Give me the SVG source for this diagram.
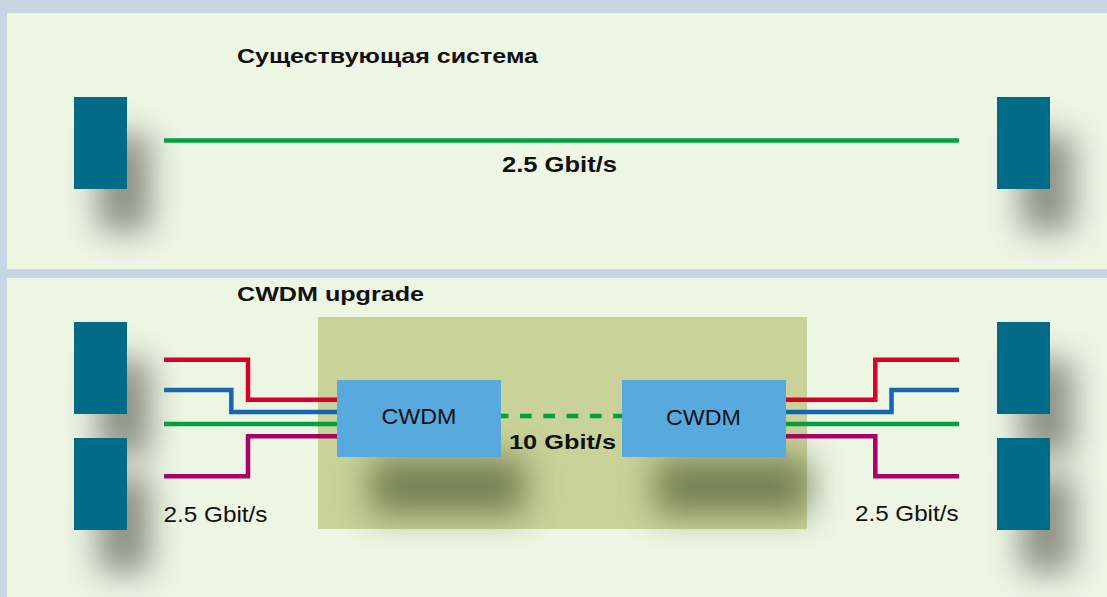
<svg xmlns="http://www.w3.org/2000/svg" width="1107" height="597" viewBox="0 0 1107 597">
<style>
.panel{fill:#edf5e3}
.term{fill:#006b86}
.tshadow{fill:#7a7f72;opacity:0.85}
.cshadow{fill:#5a633a;opacity:0.75}
.cwdm{fill:#58a9de}
.ln{fill:none;stroke-width:4.5;stroke-linejoin:miter;stroke-linecap:butt}
.red{stroke:#d7002b}
.blue{stroke:#1466b0}
.green{stroke:#00a040}
.mag{stroke:#a8006a}
.bold{font-family:"Liberation Sans",Arial,sans-serif;font-weight:bold;fill:#111}
.reg{font-family:"Liberation Sans",Arial,sans-serif;fill:#111}
</style>
<defs>
<filter id="blur" filterUnits="userSpaceOnUse" x="0" y="0" width="1107" height="597"><feGaussianBlur stdDeviation="16"/></filter>
<filter id="blur2" filterUnits="userSpaceOnUse" x="0" y="0" width="1107" height="597"><feGaussianBlur stdDeviation="17"/></filter>
</defs>
<rect x="0" y="0" width="1107" height="597" fill="#c8d6e3"/>
<rect class="panel" x="7" y="13" width="1100" height="256"/>
<rect class="panel" x="7" y="278" width="1100" height="319"/>

<text class="bold" x="237" y="62.5" font-size="20" textLength="301" lengthAdjust="spacingAndGlyphs">Существующая система</text>
<text class="bold" x="237" y="301" font-size="20" textLength="187" lengthAdjust="spacingAndGlyphs">CWDM upgrade</text>

<g id="olive-zone">
<rect x="318" y="317" width="489" height="212" fill="#c9d298"/>
</g>

<g id="connectors">
<line id="link-top" class="ln green" x1="164" y1="140.5" x2="959" y2="140.5" stroke-width="5"/>
<polyline class="ln red" points="164,359.7 248,359.7 248,399.7 337,399.7"/>
<polyline class="ln blue" points="164,390 231.3,390 231.3,412 337,412"/>
<polyline class="ln green" points="164,424 337,424"/>
<polyline class="ln mag" points="164,476.3 248,476.3 248,436.2 337,436.2"/>
<polyline class="ln red" points="786,399.7 875.3,399.7 875.3,359.7 959,359.7"/>
<polyline class="ln blue" points="786,412 891.5,412 891.5,390 959,390"/>
<polyline class="ln green" points="786,424 959,424"/>
<polyline class="ln mag" points="786,436.2 875.3,436.2 875.3,476.3 959,476.3"/>
<line id="link-10g" class="ln green" x1="501" y1="416" x2="622" y2="416" stroke-width="5" stroke-dasharray="11.7 11.6" stroke-dashoffset="4.3"/>
</g>

<g id="term-top-left">
<rect class="tshadow" x="98" y="135" width="52" height="96" filter="url(#blur)"/>
<rect class="term" x="74" y="97" width="53" height="92"/>
</g>
<g id="term-top-right">
<rect class="tshadow" x="1021" y="135" width="52" height="96" filter="url(#blur)"/>
<rect class="term" x="997" y="97" width="53" height="92"/>
</g>
<g id="term-bottom-left-1">
<rect class="tshadow" x="98" y="360" width="52" height="96" filter="url(#blur)"/>
<rect class="term" x="74" y="322" width="53" height="92"/>
</g>
<g id="term-bottom-left-2">
<rect class="tshadow" x="98" y="476" width="52" height="96" filter="url(#blur)"/>
<rect class="term" x="74" y="438" width="53" height="92"/>
</g>
<g id="term-bottom-right-1">
<rect class="tshadow" x="1021" y="360" width="52" height="96" filter="url(#blur)"/>
<rect class="term" x="997" y="322" width="53" height="92"/>
</g>
<g id="term-bottom-right-2">
<rect class="tshadow" x="1021" y="476" width="52" height="96" filter="url(#blur)"/>
<rect class="term" x="997" y="438" width="53" height="92"/>
</g>

<g id="cwdm-left">
<rect class="cshadow" x="370" y="458" width="155" height="56" filter="url(#blur2)"/>
<rect class="cwdm" x="337" y="380" width="164" height="77"/>
<text class="reg" x="419" y="423.5" font-size="22" text-anchor="middle" textLength="75" lengthAdjust="spacingAndGlyphs">CWDM</text>
</g>
<g id="cwdm-right">
<rect class="cshadow" x="655" y="458" width="155" height="56" filter="url(#blur2)"/>
<rect class="cwdm" x="622" y="380" width="164" height="77"/>
<text class="reg" x="703.5" y="424.5" font-size="22" text-anchor="middle" textLength="75" lengthAdjust="spacingAndGlyphs">CWDM</text>
</g>

<g id="labels">
<text class="bold" x="502" y="171.5" font-size="22" textLength="115" lengthAdjust="spacingAndGlyphs">2.5 Gbit/s</text>
<text class="bold" x="509" y="448.5" font-size="21" textLength="107" lengthAdjust="spacingAndGlyphs">10 Gbit/s</text>
<text class="reg" x="163.5" y="521.5" font-size="22" textLength="104" lengthAdjust="spacingAndGlyphs">2.5 Gbit/s</text>
<text class="reg" x="855" y="521" font-size="22" textLength="103.5" lengthAdjust="spacingAndGlyphs">2.5 Gbit/s</text>
</g>
</svg>
